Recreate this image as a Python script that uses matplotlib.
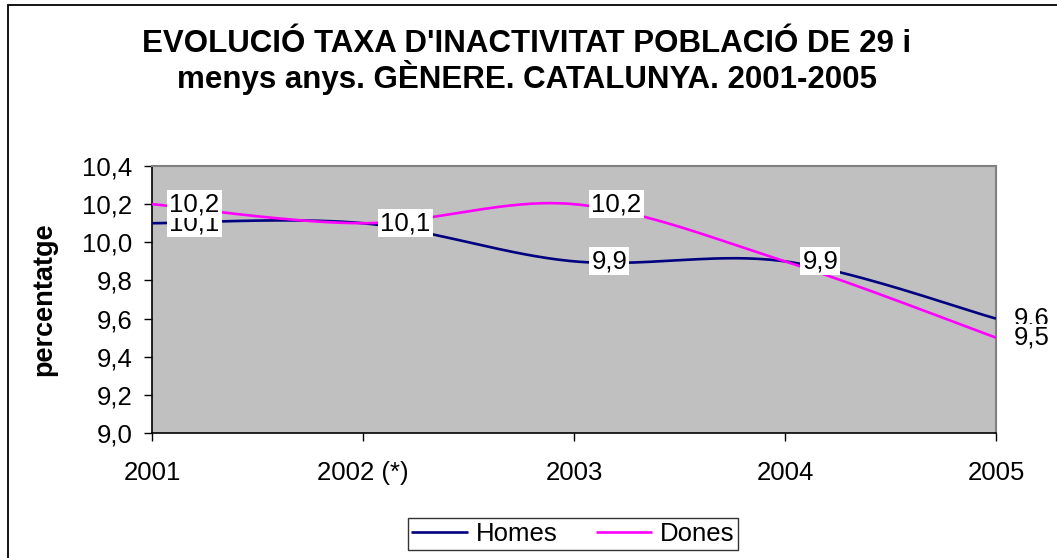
import numpy as np
import matplotlib
matplotlib.use("Agg")
import matplotlib.pyplot as plt
from matplotlib.patches import Rectangle

years = ["2001", "2002 (*)", "2003", "2004", "2005"]
homes = [10.1, 10.1, 9.9, 9.9, 9.6]
dones = [10.2, 10.1, 10.2, 9.9, 9.5]
series_names = ["Homes", "Dones"]
series_colors = ["#000080", "#FF00FF"]
title_lines = ["EVOLUCIÓ TAXA D'INACTIVITAT POBLACIÓ DE 29 i",
               "menys anys. GÈNERE. CATALUNYA. 2001-2005"]
ylabel = "percentatge"
yticks = [9.0, 9.2, 9.4, 9.6, 9.8, 10.0, 10.2, 10.4]

FONT = "Liberation Sans"
W, H = 1057, 558


def smooth(xs, ys, n=40):
    xs = np.asarray(xs, float)
    ys = np.asarray(ys, float)
    px = np.concatenate([[xs[0]], xs, [xs[-1]]])
    py = np.concatenate([[ys[0]], ys, [ys[-1]]])
    ox, oy = [], []
    t = np.linspace(0, 1, n)
    for i in range(1, len(px) - 2):
        p0 = np.array([px[i], py[i]])
        p3 = np.array([px[i + 1], py[i + 1]])
        c1 = p0 + (np.array([px[i + 1], py[i + 1]]) - np.array([px[i - 1], py[i - 1]])) / 6
        c2 = p3 - (np.array([px[i + 2], py[i + 2]]) - np.array([px[i], py[i]])) / 6
        b = ((1 - t) ** 3)[:, None] * p0 + (3 * (1 - t) ** 2 * t)[:, None] * c1 \
            + (3 * (1 - t) * t ** 2)[:, None] * c2 + (t ** 3)[:, None] * p3
        ox.extend(b[:, 0])
        oy.extend(b[:, 1])
    return np.array(ox), np.array(oy)


fig = plt.figure(figsize=(W / 100, H / 100), dpi=100)
fig.patch.set_facecolor("white")
fig.patches.append(Rectangle((8 / W, -0.2), 1.2, 1.2 - 5 / H,
                             transform=fig.transFigure, fill=False,
                             edgecolor="black", linewidth=1.3))

ax = fig.add_axes([152 / W, 1 - 433 / H, (996 - 152) / W, (433 - 166) / H])
ax.set_facecolor("#C0C0C0")
x = np.arange(len(years))

for vals, name, col in zip([homes, dones], series_names, series_colors):
    sx, sy = smooth(x, vals)
    ax.plot(sx, sy, color=col, lw=1.9, label=name, solid_capstyle="butt", zorder=3)

for vals, col in zip([homes, dones], series_colors):
    for xi, v in zip(x, vals):
        ax.annotate(f"{v:.1f}".replace(".", ","), (xi, v), xytext=(12.5, 0),
                    textcoords="offset points", ha="left", va="center",
                    fontsize=18.5, family=FONT, color="black", zorder=5,
                    annotation_clip=False,
                    bbox=dict(boxstyle="square,pad=0.08", fc="white", ec="none"))

ax.set_xlim(0, len(years) - 1)
ax.set_ylim(9.0, 10.4)
ax.set_xticks(x)
ax.set_xticklabels(years, fontsize=18.5, family=FONT)
ax.set_yticks(yticks)
ax.set_yticklabels([f"{v:.1f}".replace(".", ",") for v in yticks], fontsize=18.5, family=FONT)
ax.tick_params(axis="x", direction="out", length=6, width=1, pad=14)
ax.tick_params(axis="y", direction="out", length=6, width=1, pad=8)
for s in ["left", "bottom"]:
    ax.spines[s].set_color("black")
    ax.spines[s].set_linewidth(1.2)
for s in ["top", "right"]:
    ax.spines[s].set_color("#808080")
    ax.spines[s].set_linewidth(1.5)

ax.set_ylabel(ylabel, fontsize=19.5, family=FONT, fontweight="bold")
ax.yaxis.set_label_coords(57 / W, 1 - 299 / H, transform=fig.transFigure)

fig.text(527 / W, 1 - 52 / H, title_lines[0], ha="center", va="baseline",
         fontsize=22.5, family=FONT, fontweight="bold")
fig.text(527 / W, 1 - 88 / H, title_lines[1], ha="center", va="baseline",
         fontsize=22.5, family=FONT, fontweight="bold")

leg = fig.legend(loc="center", bbox_to_anchor=(573 / W, 1 - 534 / H), ncol=2,
                 prop={"family": FONT, "size": 18.5}, frameon=True, fancybox=False,
                 handlelength=2.2, handletextpad=0.3, columnspacing=1.5,
                 borderpad=0.15, borderaxespad=0)
leg.get_frame().set_edgecolor("black")
leg.get_frame().set_linewidth(1.0)

fig.savefig("out.png", dpi=100)
